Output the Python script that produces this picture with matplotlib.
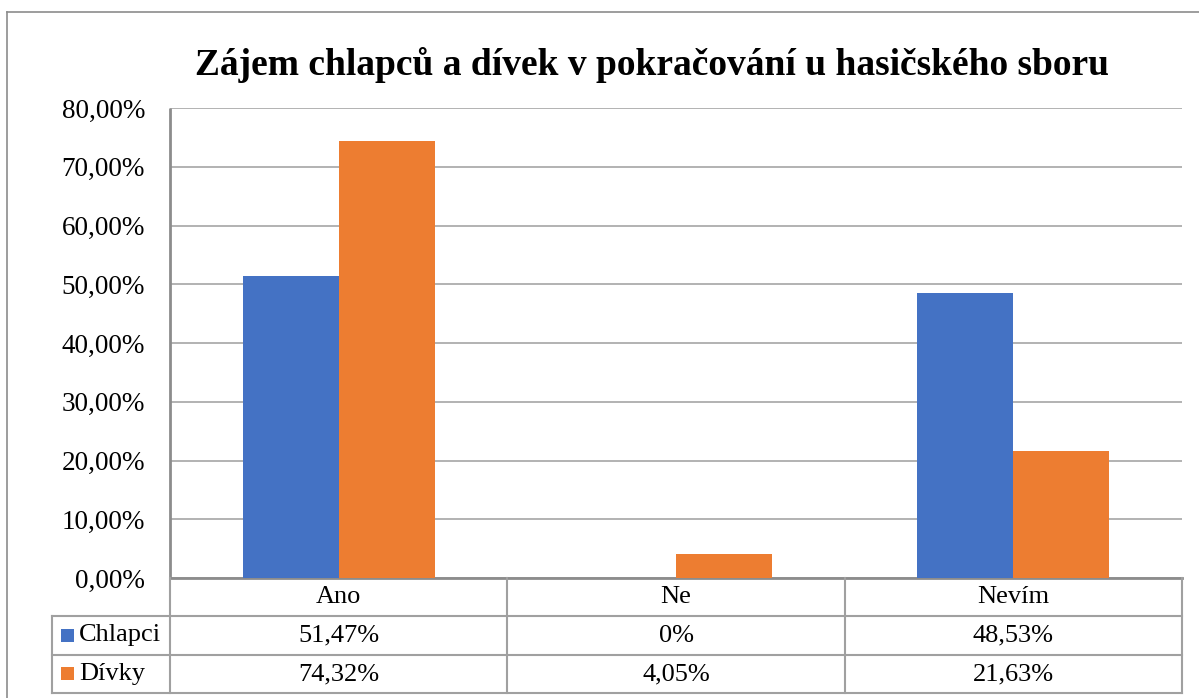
import matplotlib
matplotlib.use("Agg")
import matplotlib.pyplot as plt
from matplotlib.lines import Line2D
from matplotlib.patches import Rectangle
import numpy as np

plt.rcParams['font.family'] = ['Liberation Serif', 'DejaVu Serif']

title = "Zájem chlapců a dívek v pokračování u hasičského sboru"
categories = ["Ano", "Ne", "Nevím"]
series_names = ["Chlapci", "Dívky"]
chlapci = [51.47, 0.0, 48.53]
divky = [74.32, 4.05, 21.63]
colors = ["#4472C4", "#ED7D31"]
yticks = [0, 10, 20, 30, 40, 50, 60, 70, 80]

W, H = 1199, 698
fig = plt.figure(figsize=(W / 100, H / 100), dpi=100)

def fx(px):
    return px / W

def fy(py):
    return 1 - py / H

L, R, T, B = 170, 1182, 108, 578
ax = fig.add_axes([fx(L), fy(B), fx(R) - fx(L), fy(T) - fy(B)])

x = np.arange(len(categories))
bw = 0.285
ax.bar(x - bw / 2, chlapci, bw, color=colors[0], zorder=3)
ax.bar(x + bw / 2, divky, bw, color=colors[1], zorder=3)
ax.set_xlim(-0.5, len(categories) - 0.5)
ax.set_ylim(0, 80)
ax.set_yticks(yticks)
ax.set_yticklabels([f"{v:.2f}".replace(".", ",") + "%" for v in yticks], fontsize=19.5)
ax.tick_params(axis='y', length=0, pad=18)
ax.set_xticks([])
ax.grid(axis='y', color="#A6A6A6", linewidth=1.2, zorder=0)
for s in ["top", "right"]:
    ax.spines[s].set_visible(False)
ax.spines["left"].set_color("#8C8C8C")
ax.spines["left"].set_linewidth(2)
ax.spines["left"].set_capstyle("butt")
ax.spines["bottom"].set_color("#8C8C8C")
ax.spines["bottom"].set_linewidth(2)

# title
fig.text(fx(652), fy(65), title, ha="center", va="center", fontsize=27, fontweight="bold")

# outer chart border
fig.add_artist(Line2D([fx(7), fx(W + 5)], [fy(12), fy(12)], transform=fig.transFigure, color="#8C8C8C", lw=1.2))
fig.add_artist(Line2D([fx(7), fx(7)], [fy(12), fy(H + 5)], transform=fig.transFigure, color="#8C8C8C", lw=1.2))

# data table
rows_y = [578, 616, 655, 693]
tcol = "#A0A0A0"
legend_left = 52
cat_w = (R - L) / len(categories)
col_x = [L + i * cat_w for i in range(len(categories) + 1)]

def hline(y, x0, x1, lw=1.5):
    fig.add_artist(Line2D([fx(x0), fx(x1)], [fy(y), fy(y)], transform=fig.transFigure, color=tcol, lw=lw))

def vline(xp, y0, y1, lw=1.5):
    fig.add_artist(Line2D([fx(xp), fx(xp)], [fy(y0), fy(y1)], transform=fig.transFigure, color=tcol, lw=lw))

hline(rows_y[1], legend_left, R)
hline(rows_y[2], legend_left, R)
hline(rows_y[3], legend_left, R)
vline(legend_left, rows_y[1], rows_y[3])
for cx in col_x:
    vline(cx, rows_y[0], rows_y[3])

def fmt(v):
    if v == 0:
        return "0%"
    return f"{v:.2f}".replace(".", ",") + "%"

for i, c in enumerate(categories):
    xc = (col_x[i] + col_x[i + 1]) / 2
    fig.text(fx(xc), fy((rows_y[0] + rows_y[1]) / 2), c, ha="center", va="center", fontsize=19)
    fig.text(fx(xc), fy((rows_y[1] + rows_y[2]) / 2), fmt(chlapci[i]), ha="center", va="center", fontsize=19)
    fig.text(fx(xc), fy((rows_y[2] + rows_y[3]) / 2), fmt(divky[i]), ha="center", va="center", fontsize=19)

for j, (name, col) in enumerate(zip(series_names, colors)):
    yc = (rows_y[j + 1] + rows_y[j + 2]) / 2
    fig.add_artist(Rectangle((fx(61), fy(yc + 6)), fx(13), fy(0) - fy(13), transform=fig.transFigure,
                             facecolor=col, edgecolor="none"))
    fig.text(fx(79), fy(yc), name, ha="left", va="center", fontsize=19)

fig.savefig("out.png", dpi=100)
